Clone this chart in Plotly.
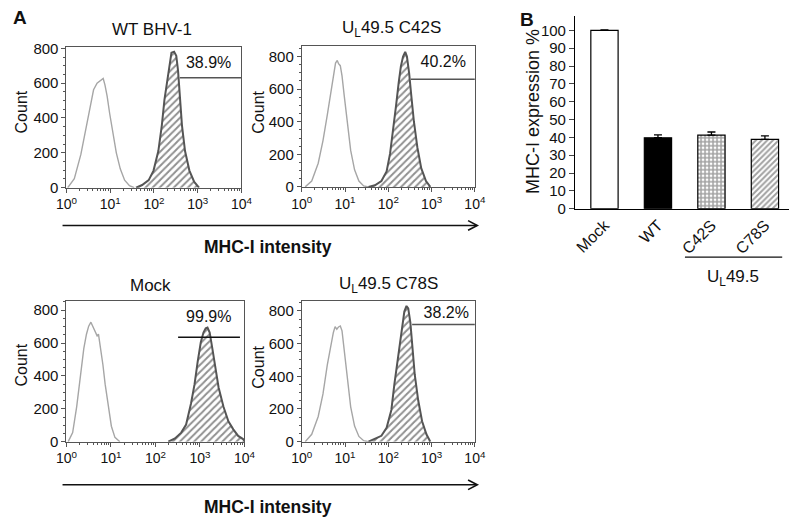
import plotly.graph_objects as go

W, H = 800, 525
def px(x): return x / W
def py(y): return 1 - y / H

FONT = "Liberation Sans, Arial, sans-serif"
DARK = "#555555"
GRAY = "#a6a6a6"
INK = "#111111"

# ---------------- Panel A data (log10 intensity, count) ----------------
wt_gray_log = [0.03, 0.18, 0.33, 0.44, 0.53, 0.62, 0.70, 0.76, 0.81, 0.84, 0.88, 0.93, 0.99, 1.07, 1.14, 1.23, 1.33, 1.44, 1.55]
wt_gray_cnt = [0, 52, 191, 340, 460, 562, 600, 614, 622, 627, 590, 525, 423, 302, 200, 108, 43, 11, 0]
wt_hat_log = [1.59, 1.73, 1.88, 1.99, 2.10, 2.18, 2.24, 2.29, 2.34, 2.40, 2.46, 2.51, 2.55, 2.59, 2.64, 2.71, 2.81, 2.92, 3.03]
wt_hat_cnt = [0, 15, 43, 98, 210, 358, 506, 600, 692, 775, 781, 757, 673, 525, 358, 210, 98, 33, 0]

c42_gray_log = [0.08, 0.23, 0.38, 0.49, 0.59, 0.67, 0.73, 0.78, 0.82, 0.85, 0.89, 0.93, 0.98, 1.06, 1.13, 1.22, 1.32, 1.43, 1.54]
c42_gray_cnt = [0, 36, 145, 284, 442, 581, 690, 760, 776, 756, 744, 681, 562, 383, 224, 105, 36, 6, 0]
c42_hat_log = [1.54, 1.69, 1.84, 1.96, 2.04, 2.12, 2.18, 2.24, 2.29, 2.34, 2.39, 2.43, 2.48, 2.53, 2.59, 2.67, 2.76, 2.87, 2.97]
c42_hat_cnt = [0, 10, 36, 95, 204, 363, 502, 641, 740, 800, 829, 800, 700, 562, 403, 244, 115, 36, 0]

mock_gray_log = [0.04, 0.14, 0.23, 0.32, 0.39, 0.45, 0.50, 0.55, 0.60, 0.65, 0.69, 0.72, 0.76, 0.82, 0.87, 0.94, 1.01, 1.09, 1.20]
mock_gray_cnt = [0, 55, 212, 409, 566, 654, 703, 727, 694, 664, 644, 654, 585, 468, 350, 212, 94, 26, 0]
mock_hat_log = [2.29, 2.44, 2.58, 2.69, 2.80, 2.88, 2.95, 3.02, 3.08, 3.13, 3.17, 3.22, 3.28, 3.35, 3.42, 3.53, 3.64, 3.75, 3.86, 3.97, 4.01]
mock_hat_cnt = [0, 20, 55, 104, 232, 350, 487, 605, 664, 690, 694, 664, 566, 448, 330, 212, 124, 75, 35, 16, 0]

c78_gray_log = [0.08, 0.23, 0.38, 0.49, 0.59, 0.67, 0.73, 0.77, 0.81, 0.85, 0.89, 0.93, 0.98, 1.06, 1.13, 1.22, 1.32, 1.43, 1.54]
c78_gray_cnt = [0, 45, 154, 292, 470, 589, 668, 704, 688, 702, 708, 678, 569, 372, 213, 95, 32, 6, 0]
c78_hat_log = [1.54, 1.69, 1.84, 1.96, 2.07, 2.14, 2.22, 2.27, 2.31, 2.37, 2.42, 2.46, 2.51, 2.55, 2.61, 2.69, 2.78, 2.88, 2.97]
c78_hat_cnt = [0, 16, 36, 85, 194, 352, 510, 609, 708, 796, 830, 816, 727, 589, 411, 253, 125, 45, 0]

panel_titles = ["WT BHV-1", "U<sub>L</sub>49.5 C42S", "Mock", "U<sub>L</sub>49.5 C78S"]
gate_pct = ["38.9%", "40.2%", "99.9%", "38.2%"]
gate_start_log = [2.59, 2.52, 2.51, 2.55]
gate_end_log = [4.0, 4.0, 3.90, 4.0]
gate_count = [631, 660, 635, 717]
pct_log = [3.25, 3.27, 3.20, 3.34]
pct_count = [710, 760, 752, 783]

x_tick_vals = [1, 10, 100, 1000, 10000]
x_tick_text = ["10<sup>0</sup>", "10<sup>1</sup>", "10<sup>2</sup>", "10<sup>3</sup>", "10<sup>4</sup>"]
y_tick_vals = [0, 200, 400, 600, 800]

# ---------------- Panel B data ----------------
bar_cats = ["Mock", "WT", "C42S", "C78S"]
bar_vals = [100, 39.8, 41.3, 38.9]
bar_errs = [0.3, 1.6, 1.7, 1.9]
bar_ticks = list(range(0, 101, 10))

fig = go.Figure()

panels = [
    (wt_gray_log, wt_gray_cnt, wt_hat_log, wt_hat_cnt),
    (c42_gray_log, c42_gray_cnt, c42_hat_log, c42_hat_cnt),
    (mock_gray_log, mock_gray_cnt, mock_hat_log, mock_hat_cnt),
    (c78_gray_log, c78_gray_cnt, c78_hat_log, c78_hat_cnt),
]
# pixel geometry: (left, right, bottom(0), top, ymax)
geo = [
    (57, 237, 185.3, 40.7, 805),
    (299, 477, 184.5, 39.0, 866),
    (57, 240, 447.3, 301.7, 859),
    (299, 477, 447.3, 302.3, 860),
]

minor_vals = [m * 10 ** d for d in range(0, 4) for m in range(2, 10)]

for i, (gl, gc, hl, hc) in enumerate(panels):
    n = i + 1
    xa = "x" if n == 1 else f"x{n}"
    ya = "y" if n == 1 else f"y{n}"
    fig.add_trace(go.Scatter(x=[10 ** v for v in gl], y=gc, mode="lines",
                             line=dict(color=GRAY, width=1.4), xaxis=xa, yaxis=ya,
                             showlegend=False, hoverinfo="skip"))
    fig.add_trace(go.Scatter(x=[10 ** v for v in hl], y=hc, mode="lines",
                             fill="tozeroy", fillcolor="white",
                             fillpattern=dict(shape="/", fgcolor="#222222", bgcolor="white",
                                              size=5, solidity=0.4),
                             line=dict(color=DARK, width=2), xaxis=xa, yaxis=ya,
                             showlegend=False, hoverinfo="skip"))
    gate_col = INK if i == 2 else DARK
    fig.add_trace(go.Scatter(x=[10 ** gate_start_log[i], 10 ** gate_end_log[i]],
                             y=[gate_count[i], gate_count[i]], mode="lines",
                             line=dict(color=gate_col, width=1.5), xaxis=xa, yaxis=ya,
                             showlegend=False, hoverinfo="skip"))
    fig.add_trace(go.Scatter(x=[10 ** pct_log[i]], y=[pct_count[i]], mode="text",
                             text=[gate_pct[i]], textfont=dict(size=16, color=INK, family=FONT),
                             xaxis=xa, yaxis=ya, showlegend=False, hoverinfo="skip"))

    l, r, b, t, ymax = geo[i]
    xkey = "xaxis" if n == 1 else f"xaxis{n}"
    ykey = "yaxis" if n == 1 else f"yaxis{n}"
    fig.layout[xkey] = dict(domain=[px(l), px(r)], anchor=ya, type="log", range=[0, 4],
                            tickvals=x_tick_vals, ticktext=x_tick_text,
                            ticks="outside", ticklen=4, tickcolor=DARK,
                            showline=True, linecolor=DARK, linewidth=1, mirror=True,
                            showgrid=False, zeroline=False,
                            tickfont=dict(size=14, family=FONT, color=INK),
                            minor=dict(tickvals=minor_vals, ticks="outside", ticklen=2, tickcolor=DARK))
    fig.layout[ykey] = dict(domain=[py(b), py(t)], anchor=xa, range=[0, ymax],
                            tickvals=y_tick_vals, ticks="outside", ticklen=4, tickcolor=DARK,
                            showline=True, linecolor=DARK, linewidth=1, mirror=True,
                            showgrid=False, zeroline=False,
                            tickfont=dict(size=15, family=FONT, color=INK),
                            minor=dict(dtick=50, ticks="outside", ticklen=2, tickcolor=DARK))

# ---------------- Bar chart ----------------
fig.add_trace(go.Bar(
    x=bar_cats, y=bar_vals, width=0.51, xaxis="x5", yaxis="y5", showlegend=False,
    marker=dict(color=["white", "black", "white", "white"],
                line=dict(color="black", width=1.2),
                pattern=dict(shape=["", "", "+", "/"],
                             fgcolor=["black", "black", "black", "#333333"],
                             bgcolor=["white", "black", "white", "white"],
                             size=[6, 6, 4, 4], solidity=[0.3, 0.3, 0.6, 0.5])),
    error_y=dict(type="data", array=bar_errs, arrayminus=[0, 0, 0, 0], symmetric=False,
                 color="black", thickness=1.3, width=4),
    hoverinfo="skip"))

fig.layout["xaxis5"] = dict(domain=[px(580), px(800)], anchor="y5", range=[-0.55, 3.45],
                            showline=True, linecolor="black", linewidth=1.2, ticks="",
                            tickangle=-45, showgrid=False, zeroline=False,
                            tickfont=dict(size=16, family=FONT, color=INK))
fig.layout["yaxis5"] = dict(domain=[py(207), py(8)], anchor="x5", range=[0, 108.2],
                            tickvals=bar_ticks, ticks="outside", ticklen=5,
                            showline=True, linecolor="black", linewidth=1.2,
                            showgrid=False, zeroline=False,
                            tickfont=dict(size=15, family=FONT, color=INK))

# ---------------- Annotations ----------------
ann = []
def text(x, y, s, size=15, bold=False, angle=0, xanchor="center"):
    ann.append(dict(x=px(x), y=py(y), xref="paper", yref="paper", text=f"<b>{s}</b>" if bold else s,
                    showarrow=False, textangle=angle, xanchor=xanchor, yanchor="middle",
                    font=dict(size=size, family=FONT, color=INK)))

text(9, 10, "A", size=19, bold=True)
text(531, 12, "B", size=19, bold=True)
text(145, 22, panel_titles[0], size=17)
text(391, 22, panel_titles[1], size=17)
text(143, 286, panel_titles[2], size=17)
text(388, 286, panel_titles[3], size=17)
text(11, 107, "Count", size=16, angle=-90)
text(255, 107, "Count", size=16, angle=-90)
text(11, 368, "Count", size=16, angle=-90)
text(255, 370, "Count", size=16, angle=-90)
text(264, 246, "MHC-I intensity", size=17.5, bold=True)
text(264, 515, "MHC-I intensity", size=17.5, bold=True)
text(537, 107, "MHC-I expression %", size=18, angle=-90)
text(742, 278, "U<sub>L</sub>49.5", size=17)

shapes = []
for yy in (224.3, 491.8):
    shapes.append(dict(type="line", xref="paper", yref="paper", x0=px(53), x1=px(479), y0=py(yy), y1=py(yy),
                       line=dict(color=INK, width=1.6)))
    shapes.append(dict(type="path", xref="paper", yref="paper",
                       path=f"M {px(470)} {py(yy - 5)} L {px(479.5)} {py(yy)} L {px(470)} {py(yy + 5)}",
                       line=dict(color=INK, width=1.6)))
shapes.append(dict(type="line", xref="paper", yref="paper", x0=px(693), x1=px(793), y0=py(257), y1=py(257),
                   line=dict(color=INK, width=1.3)))

fig.update_layout(width=W, height=H, margin=dict(l=0, r=0, t=0, b=0),
                  paper_bgcolor="white", plot_bgcolor="white",
                  annotations=ann, shapes=shapes, bargap=0.3,
                  font=dict(family=FONT, color=INK))

fig.write_html("out.html", config={"displayModeBar": False},
               post_script="document.body.style.margin='0';")
